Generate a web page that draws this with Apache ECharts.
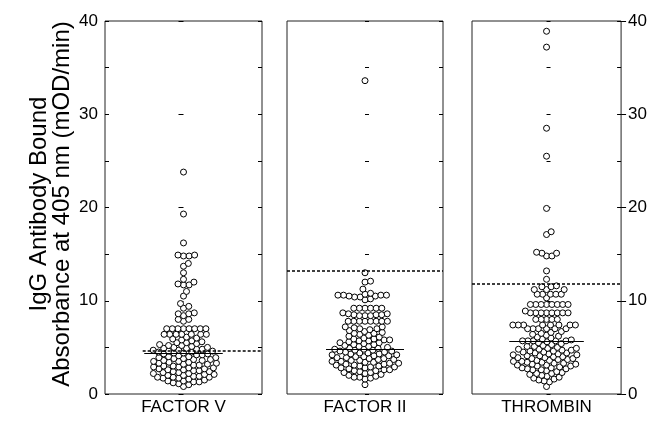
<!DOCTYPE html>
<html>
<head>
<meta charset="utf-8">
<script src="https://cdn.jsdelivr.net/npm/echarts@6/dist/echarts.min.js"></script>
<style>
  html, body { margin: 0; padding: 0; background: #fff; }
  #chart { width: 650px; height: 421px; }
</style>
</head>
<body>
<div id="chart"></div>
<script>
// groups shown on the x axis
const categories = ['FACTOR V', 'FACTOR II', 'THROMBIN'];

// antibody absorbance per sample (mOD/min)
const factorV = [
  23.8, 19.3, 16.2, 14.9, 14.8, 14.8, 14.9, 14.0, 13.7, 13.0, 12.3, 12.0, 11.7, 11.7, 11.8,
  11.0, 10.5, 9.7, 9.4, 9.2, 8.7, 8.6, 8.6, 8.4, 8.0, 8.0, 7.8,
  7.0, 7.0, 7.0, 7.0, 7.0, 7.0, 7.0, 7.0,
  6.4, 6.4, 6.4, 6.4, 6.4, 6.4, 6.4,
  6.1, 6.0, 5.9,
  5.8, 5.7, 5.6, 5.5, 5.5, 5.4, 5.3, 5.2, 5.2, 5.1, 5.0,
  5.0, 4.9, 4.9, 4.8, 4.8, 4.7, 4.7, 4.6, 4.6, 4.5, 4.5, 4.4, 4.4, 4.3, 4.3, 4.2, 4.2, 4.1, 4.0, 4.0,
  3.9, 3.9, 3.8, 3.8, 3.7, 3.7, 3.6, 3.6, 3.5, 3.5, 3.4, 3.4, 3.3, 3.3, 3.2, 3.2, 3.1, 3.1, 3.0, 3.0,
  2.9, 2.9, 2.8, 2.8, 2.7, 2.7, 2.6, 2.6, 2.5, 2.5, 2.4, 2.4, 2.3, 2.3, 2.2, 2.2, 2.1, 2.1, 2.0, 2.0,
  1.9, 1.9, 1.8, 1.8, 1.8, 1.7, 1.7, 1.6, 1.5, 1.4, 1.4, 1.3, 1.3, 1.2, 1.1, 1.0, 0.8
];
const factorII = [
  33.6, 13.0, 12.1, 12.0, 11.25, 10.8,
  10.6, 10.5, 10.6, 10.4, 10.6, 10.5, 10.6, 10.4, 10.7, 10.2, 10.1,
  9.2, 9.2, 9.2, 9.2, 9.2, 9.2,
  8.5, 8.4, 8.6, 8.5, 8.4, 8.7, 8.5, 8.4, 8.6,
  7.8, 7.8, 7.8, 7.8, 7.8, 7.8, 7.8, 7.8,
  7.2, 7.2, 7.1, 7.0, 7.0, 6.9,
  6.8, 6.7, 6.6, 6.5, 6.5, 6.4, 6.3, 6.2, 6.1, 6.0,
  5.9, 5.9, 5.8, 5.8, 5.7, 5.7, 5.6, 5.5, 5.5, 5.4, 5.3, 5.3, 5.2, 5.1, 5.1, 5.0,
  4.9, 4.9, 4.8, 4.8, 4.7, 4.7, 4.6, 4.6, 4.5, 4.5, 4.4, 4.4, 4.3, 4.3, 4.2, 4.2, 4.1, 4.1, 4.0, 4.0,
  3.9, 3.9, 3.8, 3.8, 3.7, 3.7, 3.6, 3.6, 3.5, 3.5, 3.4, 3.4, 3.3, 3.3, 3.2, 3.2, 3.1, 3.1, 3.0, 3.0,
  2.9, 2.9, 2.8, 2.8, 2.7, 2.6, 2.6, 2.5, 2.5, 2.4, 2.3, 2.3, 2.2, 2.1, 2.0, 1.9, 1.8, 1.8, 1.7, 1.6, 1.0
];
const thrombin = [
  38.9, 37.2, 28.5, 25.5, 19.9, 17.4, 17.1, 15.2, 15.1, 14.8, 14.8, 15.1, 13.2, 12.3,
  11.6, 11.2, 11.2, 11.5, 11.2, 11.5,
  10.7, 10.7, 10.7, 10.7, 10.7, 10.3,
  9.6, 9.6, 9.6, 9.6, 9.6, 9.6, 9.6, 9.6,
  8.7, 8.7, 8.7, 8.7, 8.9, 8.7, 8.7, 8.7, 8.7,
  8.0, 8.0, 8.0, 8.0, 8.0,
  7.4, 7.4, 7.4, 7.4, 7.4, 7.4, 7.4, 7.4,
  7.0, 7.0, 7.0, 7.0, 7.0, 7.0,
  6.7, 6.6, 6.5, 6.4, 6.3, 6.2, 6.1, 6.0, 5.9,
  5.8, 5.7, 5.7, 5.7, 5.7, 5.7, 5.6, 5.5, 5.4, 5.3, 5.2, 5.1, 5.1, 5.0,
  4.9, 4.9, 4.8, 4.8, 4.7, 4.7, 4.6, 4.6, 4.5, 4.5, 4.4, 4.4, 4.3, 4.3, 4.2, 4.2, 4.1, 4.1, 4.0, 4.0,
  3.9, 3.9, 3.8, 3.8, 3.7, 3.7, 3.6, 3.6, 3.5, 3.5, 3.4, 3.4, 3.3, 3.3, 3.2, 3.2, 3.1, 3.1, 3.0, 3.0,
  2.9, 2.8, 2.8, 2.7, 2.7, 2.6, 2.6, 2.5, 2.4, 2.3, 2.2, 2.2, 2.1, 2.0, 1.9, 1.8, 1.7, 1.6, 1.5, 1.4, 1.3, 0.8
];

// solid line = median, dashed line = cut-off
const medians = [4.4, 4.8, 5.7];
const cutoffs = [4.6, 13.2, 11.8];

// y axis ticks
const yTicks = [0, 10, 20, 30, 40];

const groups = [factorV, factorII, thrombin];

const chart = echarts.init(document.getElementById('chart'));

// panel boxes in px
const panels = [
  { left: 105, width: 157 },
  { left: 287, width: 156 },
  { left: 472, width: 155 }
];
const gridTop = 21, gridH = 378;
const pxPerUnit = gridH / (yTicks[yTicks.length - 1] - yTicks[0]);
const dotDist = 5.6;

// simple beeswarm: spread close values sideways
function swarm(values, halfW) {
  const pts = values.map(v => ({ v: v, y: v * pxPerUnit, x: 0 })).sort((a, b) => a.y - b.y);
  const placed = [];
  pts.forEach(p => {
    const near = placed.filter(q => Math.abs(q.y - p.y) < dotDist);
    const cands = [0];
    near.forEach(q => {
      const dx = Math.sqrt(dotDist * dotDist - (q.y - p.y) * (q.y - p.y));
      cands.push(q.x + dx, q.x - dx);
    });
    cands.sort((a, b) => Math.abs(a) - Math.abs(b));
    for (let i = 0; i < cands.length; i++) {
      const c = cands[i];
      const ok = near.every(q => (q.x - c) * (q.x - c) + (q.y - p.y) * (q.y - p.y) >= dotDist * dotDist - 1e-6);
      if (ok) { p.x = c; break; }
    }
    placed.push(p);
  });
  return placed.map(p => [p.x / halfW, p.v]);
}

const dashStart = [-0.52, -1, -1];

const tickAxis = (gridIndex, position, inside, show) => ({
  type: 'value', gridIndex: gridIndex, position: position,
  min: 0, max: 40, interval: inside ? 5 : 10,
  axisLine: { show: false },
  axisTick: { show: true, inside: inside, length: inside ? 4 : 5, lineStyle: { color: '#000', width: 1 } },
  axisLabel: { show: show, margin: 7, color: '#000', fontSize: 17, fontFamily: 'Liberation Sans, Arial, sans-serif' },
  splitLine: { show: false }
});

const option = {
  animation: false,
  backgroundColor: '#fff',
  grid: panels.map(p => ({
    left: p.left, top: gridTop, width: p.width, height: gridH,
    show: true, borderColor: '#222', borderWidth: 1, backgroundColor: 'transparent'
  })),
  xAxis: categories.map((c, i) => ({
    type: 'value', gridIndex: i, min: -1, max: 1,
    name: c, nameLocation: 'middle', nameGap: 5,
    nameTextStyle: { color: '#000', fontSize: 17, fontFamily: 'Liberation Sans, Arial, sans-serif', verticalAlign: 'top' },
    axisLine: { show: false }, axisTick: { show: false }, axisLabel: { show: false }, splitLine: { show: false }
  })),
  yAxis: [
    tickAxis(0, 'left', false, true),
    tickAxis(0, 'left', true, false),
    tickAxis(0, 'right', true, false),
    tickAxis(1, 'left', true, false),
    tickAxis(1, 'right', true, false),
    tickAxis(2, 'left', true, false),
    tickAxis(2, 'right', false, true),
    tickAxis(2, 'right', true, false)
  ],
  graphic: [{
    type: 'text',
    x: 51, y: 204,
    rotation: Math.PI / 2,
    style: {
      text: 'IgG Antibody Bound\nAbsorbance at 405 nm (mOD/min)',
      font: '24px "Liberation Sans", Arial, sans-serif',
      fill: '#000',
      align: 'center',
      verticalAlign: 'middle',
      lineHeight: 23
    }
  }],
  series: groups.map((vals, i) => ({
    type: 'scatter',
    xAxisIndex: i,
    yAxisIndex: [0, 3, 6][i],
    data: swarm(vals, panels[i].width / 2),
    symbol: 'circle',
    symbolSize: 6,
    itemStyle: { color: '#fff', borderColor: '#000', borderWidth: 1, opacity: 1 },
    markLine: {
      silent: true, symbol: 'none', animation: false,
      label: { show: false },
      data: [
        [{ coord: [dashStart[i], cutoffs[i]], lineStyle: { type: [3, 2], width: 1.5, color: '#000' } },
         { coord: [1, cutoffs[i]] }],
        [{ coord: [-0.5, medians[i]], lineStyle: { type: 'solid', width: 1.2, color: '#000' } },
         { coord: [0.5, medians[i]] }]
      ]
    }
  }))
};

chart.setOption(option);
</script>
</body>
</html>
